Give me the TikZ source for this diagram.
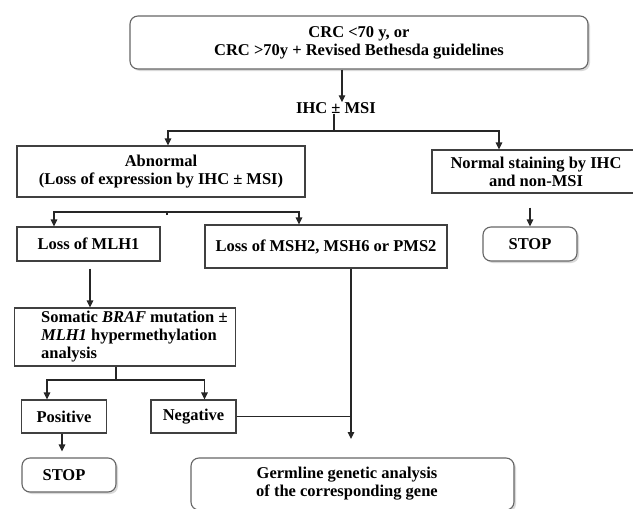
\documentclass[tikz,border=0pt]{standalone}
\usepackage{fontspec}
\setmainfont{Liberation Serif}
\usetikzlibrary{arrows.meta,shadows}

\tikzset{
  txt/.style={font=\fontsize{16.5}{18}\selectfont\bfseries, align=center, inner sep=0pt},
  box/.style={txt, draw=black!75, line width=1.1pt, fill=white},
  rbox/.style={box, draw=black!60, rounded corners=8pt,
    drop shadow={shadow xshift=2pt, shadow yshift=-2pt, opacity=0.3}},
  line/.style={draw=black!85, line width=1.1pt},
  arr/.style={line, -{Triangle[length=7pt,width=6.5pt]}}
}

\begin{document}
\begin{tikzpicture}[x=1pt, y=-1pt]

  % --- Rahmen ---
  \path[use as bounding box, clip] (0,0) rectangle (633,509);

  % --- Kaesten ---
  \node[rbox, minimum width=458, minimum height=53] (crc) at (359,42.5)
      {CRC <70 y, or\\CRC >70y + Revised Bethesda guidelines};
  \node[txt] (ihc) at (336,108) {IHC ± MSI};
  \node[box, minimum width=288, minimum height=51] (abn) at (161,171.5)
      {Abnormal\\(Loss of expression by IHC ± MSI)};
  \node[box, minimum width=208, minimum height=43] (nrm) at (536,171.5)
      {Normal staining by IHC\\and non-MSI};
  \node[box, minimum width=143, minimum height=34] (mlh) at (88.5,244) {Loss of MLH1};
  \node[box, minimum width=242, minimum height=43] (msh) at (326,246.5)
      {Loss of MSH2, MSH6 or PMS2};
  \node[rbox, minimum width=94, minimum height=34] (stopa) at (530,244) {STOP};
  \node[box, minimum width=221, minimum height=58] (som) at (125,337) {};
  \node[txt, anchor=west, align=left] (somtxt) at ([xshift=27pt]som.west)
      {Somatic \textit{BRAF} mutation ±\\\textit{MLH1} hypermethylation\\analysis};
  \node[box, minimum width=85, minimum height=33] (pos) at (64,416.5) {Positive};
  \node[box, minimum width=85, minimum height=33] (neg) at (193.5,416.5) {Negative};
  \node[rbox, minimum width=94, minimum height=34] (stopb) at (69,475) {\hspace*{-10pt}STOP};
  \node[rbox, minimum width=323, minimum height=52] (germ) at (352.5,484)
      {\hspace*{-11pt}Germline genetic analysis\\\hspace*{-11pt}of the corresponding gene};

  % --- Verzweigungspunkte ---
  \coordinate (ihcsplit) at (334,131);
  \coordinate (abnsplit) at (167,212);
  \coordinate (somsplit) at (116,380);
  \coordinate (mshdrop)  at (351,439);

  % --- Verbindungen oben ---
  \draw[arr] ([xshift=-17pt]crc.south) -- ([xshift=6pt]ihc.north);
  \draw[line] (ihc.south -| ihcsplit) -- (ihcsplit);
  \draw[arr] (ihcsplit) -| ([xshift=7pt]abn.north);
  \draw[arr] (ihcsplit) -| ([xshift=-37pt]nrm.north);

  % --- Verbindungen Mitte ---
  \draw[line] ([yshift=-3pt]abnsplit) -- (abnsplit);
  \draw[arr] (abnsplit) -| ([xshift=-34.5pt]mlh.north);
  \draw[arr] (abnsplit) -| ([xshift=-27pt]msh.north);
  \draw[arr, shorten <=14pt] (nrm.south -| stopa) -- (stopa);
  \draw[arr, shorten <=7pt] ([xshift=1.5pt]mlh.south) -- ([xshift=1.5pt]mlh.south |- som.north);

  % --- Verbindungen unten ---
  \draw[line] (som.south -| somsplit) -- (somsplit);
  \draw[arr] (somsplit) -| ([xshift=-17pt]pos.north);
  \draw[arr] (somsplit) -| ([xshift=11pt]neg.north);
  \draw[arr, shorten >=6pt] ([xshift=-2pt]pos.south) -- ([xshift=-7pt]stopb.north);
  \draw[arr] (msh.south -| mshdrop) -- (mshdrop);
  \draw[line] (neg.east) -- (neg.east -| mshdrop);

\end{tikzpicture}
\end{document}
